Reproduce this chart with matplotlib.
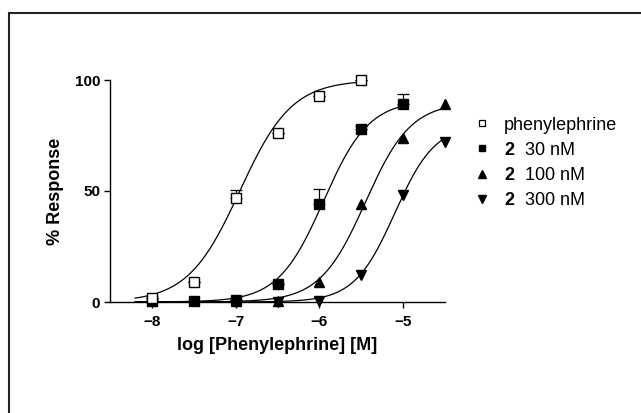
import numpy as np
import matplotlib
matplotlib.use("Agg")
import matplotlib.pyplot as plt
from matplotlib.patches import Rectangle
from matplotlib.lines import Line2D

plt.rcParams['font.family'] = ['Liberation Sans', 'DejaVu Sans']
plt.rcParams['mathtext.fontset'] = 'custom'
plt.rcParams['mathtext.rm'] = 'Liberation Sans'
plt.rcParams['mathtext.bf'] = 'Liberation Sans:bold'

# ---- data ----
phe_x = [-8.0, -7.5, -7.0, -6.5, -6.0, -5.5]
phe_y = [2, 9, 47, 76, 93, 100]
phe_err = [0, 0, 3.5, 0, 0, 0]

c30_x = [-8.0, -7.5, -7.0, -6.5, -6.0, -5.5, -5.0]
c30_y = [0.5, 0.3, 1, 8, 44, 78, 89]
c30_err = [0, 0, 0, 0, 7, 1.5, 4.5]

c100_x = [-7.0, -6.5, -6.0, -5.5, -5.0, -4.5]
c100_y = [0.5, 0.5, 9, 44, 74, 89]

c300_x = [-7.0, -6.5, -6.0, -5.5, -5.0, -4.5]
c300_y = [0, 0, 0.5, 12, 48, 72]

# fitted sigmoid parameters: top, logEC50, hill, curve start, curve end
fit_phe = (100, -6.95, 1.4, -8.2, -5.5)
fit_30 = (91, -5.95, 1.6, -8.2, -5.0)
fit_100 = (90, -5.45, 1.6, -8.2, -4.5)
fit_300 = (80, -5.1, 1.8, -8.2, -4.5)

labels = ["phenylephrine", r"$\mathbf{2}$  30 nM", r"$\mathbf{2}$  100 nM", r"$\mathbf{2}$  300 nM"]
xticks = [-8, -7, -6, -5]
yticks = [0, 50, 100]

W, H = 641, 413


def sigmoid(x, top, logec50, hill):
    return top / (1 + 10 ** ((logec50 - x) * hill))


fig = plt.figure(figsize=(W / 100, H / 100), dpi=100)
fig.patches.append(Rectangle((9 / W, -0.1), 2.0, (H - 13) / H + 0.1,
                             transform=fig.transFigure, fill=False,
                             edgecolor='#222222', linewidth=1.5))
ax = fig.add_axes([110 / W, 111 / H, 335 / W, 222 / H])

for fit in (fit_phe, fit_30, fit_100, fit_300):
    top, ec, h, x0, x1 = fit
    xs = np.linspace(x0, x1, 300)
    ax.plot(xs, sigmoid(xs, top, ec, h), color='black', lw=0.9, zorder=2,
            clip_on=False)

ms = 6.5
ax.errorbar(phe_x, phe_y, yerr=[np.zeros(len(phe_err)), phe_err], fmt='none',
            ecolor='black', elinewidth=0.9, capsize=4, capthick=0.9, zorder=3,
            clip_on=False)
ax.errorbar(c30_x, c30_y, yerr=[np.zeros(len(c30_err)), c30_err], fmt='none',
            ecolor='black', elinewidth=0.9, capsize=4, capthick=0.9, zorder=3,
            clip_on=False)

ax.plot(c300_x, c300_y, 'v', color='black', ms=ms + 0.8, zorder=4, clip_on=False)
ax.plot(c100_x, c100_y, '^', color='black', ms=ms + 0.8, zorder=4, clip_on=False)
ax.plot(c30_x, c30_y, 's', color='black', ms=ms, zorder=5, clip_on=False)
ax.plot(phe_x, phe_y, 's', mfc='white', mec='black', mew=1.0, ms=ms, zorder=6,
        clip_on=False)

ax.set_xlim(-8.5, -4.5)
ax.set_ylim(0, 100)
ax.set_xticks(xticks)
ax.set_yticks(yticks)
for s in ('top', 'right'):
    ax.spines[s].set_visible(False)
for s in ('left', 'bottom'):
    ax.spines[s].set_linewidth(1.0)
ax.tick_params(direction='out', length=4, width=1.0)
ax.tick_params(axis='x', pad=5)
ax.tick_params(axis='y', pad=3)
for lab in ax.get_xticklabels() + ax.get_yticklabels():
    lab.set_fontweight('bold')
    lab.set_fontsize(11)
ax.set_xlabel("log [Phenylephrine] [M]", fontsize=13, fontweight='bold', labelpad=6)
ax.set_ylabel("% Response", fontsize=13, fontweight='bold', labelpad=8)

# legend drawn manually
handle_styles = [
    dict(marker='s', mfc='white', mec='black', mew=0.9, ms=5),
    dict(marker='s', mfc='black', mec='black', ms=5),
    dict(marker='^', mfc='black', mec='black', ms=5.5),
    dict(marker='v', mfc='black', mec='black', ms=5.5),
]
for i, (lab, st) in enumerate(zip(labels, handle_styles)):
    yc = 1 - (123 + 25.3 * i) / H
    fig.add_artist(Line2D([482 / W], [yc], ls='none', transform=fig.transFigure, **st))
    fig.text(504 / W, yc, lab, fontsize=13, va='center_baseline', ha='left')

fig.savefig("out.png", dpi=100)
